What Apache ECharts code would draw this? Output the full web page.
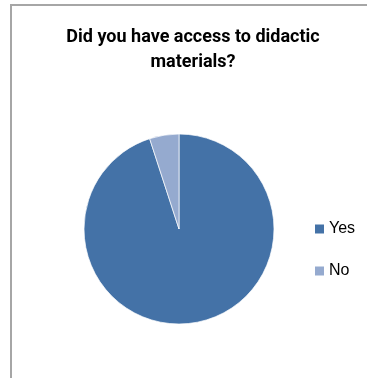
<!DOCTYPE html>
<html>
<head>
<meta charset="utf-8">
<script src="https://cdn.jsdelivr.net/npm/echarts@6/dist/echarts.min.js"></script>
<style>
  html, body { margin: 0; padding: 0; background: #fff; }
  #chart { width: 367px; height: 378px; }
</style>
</head>
<body>
<div id="chart"></div>
<script>
const titleText = 'Did you have access to didactic\nmaterials?'
const categories = ['Yes', 'No']
const values = [95, 5]
const colors = ['#4472a7', '#95aacf']

const myChart = echarts.init(document.getElementById('chart'))
myChart.setOption({
  backgroundColor: '#fff',
  animation: false,
  title: {
    text: titleText,
    left: 193,
    top: 25,
    padding: 0,
    textAlign: 'center',
    textStyle: {
      fontFamily: 'Roboto',
      fontSize: 18,
      fontWeight: 'bold',
      color: '#000',
      lineHeight: 25
    }
  },
  legend: {
    orient: 'vertical',
    left: 315,
    top: 221,
    padding: 0,
    icon: 'rect',
    itemWidth: 9,
    itemHeight: 9,
    itemGap: 26,
    itemStyle: { borderWidth: 0 },
    textStyle: {
      fontFamily: 'Liberation Sans',
      fontSize: 16,
      lineHeight: 16,
      color: '#000'
    },
    data: categories
  },
  // 左边和上边的灰色边框
  graphic: [
    { type: 'rect', shape: { x: 10, y: 4, width: 357, height: 2 }, style: { fill: '#a6a6a6' } },
    { type: 'rect', shape: { x: 10, y: 4, width: 2, height: 374 }, style: { fill: '#a6a6a6' } }
  ],
  series: [{
    type: 'pie',
    center: [179, 229],
    radius: 95,
    startAngle: 90,
    clockwise: true,
    label: { show: false },
    labelLine: { show: false },
    itemStyle: { borderColor: '#fff', borderWidth: 0.7 },
    emphasis: { disabled: true },
    data: categories.map((name, i) => ({
      name: name,
      value: values[i],
      itemStyle: { color: colors[i] }
    }))
  }]
})
</script>
</body>
</html>
